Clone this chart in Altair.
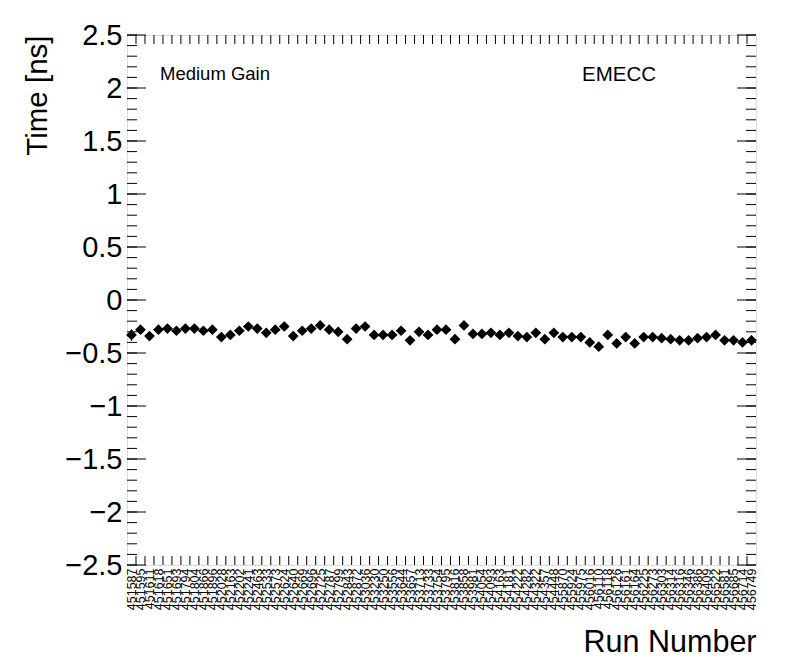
import altair as alt
import pandas as pd
import numpy as np

runs = ["451587", "451595", "451611", "451618", "451651", "451693", "451794", "451804",
        "451866", "451896", "452028", "452163", "452202", "452241", "452463", "452533",
        "452573", "452624", "452640", "452669", "452696", "452725", "452787", "452799",
        "452843", "452872", "453036", "453230", "453250", "453556", "453644", "453657",
        "453713", "453733", "453754", "453795", "453816", "453858", "453981", "454054",
        "454093", "454163", "454181", "454222", "454282", "454322", "454357", "454448",
        "455870", "455924", "455975", "456016", "456110", "456118", "456126", "456161",
        "456164", "456225", "456273", "456303", "456314", "456316", "456346", "456386",
        "456409", "456522", "456581", "456685", "456714", "456749"]

times = [-0.33, -0.28, -0.34, -0.28, -0.27, -0.29, -0.27, -0.27, -0.29, -0.28,
         -0.35, -0.33, -0.29, -0.25, -0.27, -0.31, -0.28, -0.25, -0.34, -0.29,
         -0.27, -0.24, -0.28, -0.30, -0.37, -0.27, -0.25, -0.33, -0.33, -0.33,
         -0.29, -0.38, -0.30, -0.33, -0.28, -0.28, -0.37, -0.24, -0.32, -0.32,
         -0.31, -0.33, -0.31, -0.34, -0.35, -0.31, -0.37, -0.31, -0.35, -0.35,
         -0.35, -0.40, -0.44, -0.33, -0.41, -0.35, -0.41, -0.35, -0.35, -0.36,
         -0.37, -0.38, -0.38, -0.36, -0.35, -0.33, -0.38, -0.38, -0.40, -0.38]

errors = [0.055, 0.03, 0.03, 0.03, 0.03, 0.03, 0.03, 0.03, 0.03, 0.03,
          0.03, 0.03, 0.03, 0.03, 0.03, 0.03, 0.03, 0.03, 0.03, 0.03,
          0.03, 0.03, 0.03, 0.03, 0.03, 0.03, 0.03, 0.03, 0.03, 0.03,
          0.03, 0.03, 0.03, 0.03, 0.03, 0.03, 0.03, 0.03, 0.03, 0.03,
          0.03, 0.03, 0.03, 0.03, 0.03, 0.03, 0.03, 0.03, 0.03, 0.03,
          0.03, 0.03, 0.03, 0.03, 0.03, 0.03, 0.03, 0.03, 0.03, 0.03,
          0.03, 0.03, 0.03, 0.03, 0.03, 0.03, 0.03, 0.03, 0.03, 0.045]

y_major = [-2.5, -2.0, -1.5, -1.0, -0.5, 0.0, 0.5, 1.0, 1.5, 2.0, 2.5]

W, H = 629, 530
N = len(runs)
FONT = "Liberation Sans"

df = pd.DataFrame({
    "idx": np.arange(N),
    "run": runs,
    "time": times,
    "err": errors,
})
df["center"] = df["idx"] + 0.5
df["left"] = df["idx"].astype(float)
df["right"] = df["idx"] + 1.0
df["lo"] = df["time"] - df["err"]
df["hi"] = df["time"] + df["err"]

xscale = alt.Scale(domain=[0, N], nice=False, zero=False)
yscale = alt.Scale(domain=[-2.5, 2.5], nice=False, zero=False)

label_array = "[" + ",".join("'" + r + "'" for r in runs) + "]"

xaxis = alt.Axis(values=[i + 0.5 for i in range(N)],
                 labelExpr=label_array + "[floor(datum.value)]",
                 labelAngle=270, labelAlign="right", labelBaseline="middle",
                 labelFontSize=12.5, labelFont=FONT, labelColor="black",
                 labelPadding=3, labelOverlap=False, labelFlush=False,
                 ticks=False, domain=False, grid=False,
                 title="Run Number", titleFont=FONT, titleFontSize=30.5,
                 titleFontWeight="normal", titleColor="black",
                 titleX=W, titleY=86, titleAlign="right",
                 titleBaseline="alphabetic", titleAnchor="end")
yaxis = alt.Axis(values=y_major, format="~g",
                 labelFontSize=29, labelFont=FONT, labelColor="black",
                 labelPadding=5, labelOverlap=False, labelFlush=False,
                 ticks=False, domain=False, grid=False,
                 title="Time [ns]", titleFont=FONT, titleFontSize=29.5,
                 titleFontWeight="normal", titleColor="black",
                 titleX=-104, titleY=0, titleAngle=270,
                 titleAlign="right", titleBaseline="top", titleAnchor="end")

base = alt.Chart(df)

points = base.mark_point(shape="diamond", filled=True, size=115, color="black", opacity=1).encode(
    x=alt.X("center:Q", scale=xscale, axis=xaxis),
    y=alt.Y("time:Q", scale=yscale, axis=yaxis),
)

hbars = base.mark_rule(color="black", strokeWidth=1.2).encode(
    x=alt.X("left:Q", scale=xscale, axis=xaxis),
    x2="right:Q",
    y=alt.Y("time:Q", scale=yscale, axis=yaxis),
)

vbars = base.mark_rule(color="black", strokeWidth=1.2).encode(
    x=alt.X("center:Q", scale=xscale, axis=xaxis),
    y=alt.Y("lo:Q", scale=yscale, axis=yaxis),
    y2="hi:Q",
)

# frame ticks (ROOT style, inward, on all four sides)
ymaj = pd.DataFrame({"v": y_major})
yminor_vals = [round(v, 1) for v in np.arange(-2.5, 2.5001, 0.1)]
ymin = pd.DataFrame({"v": yminor_vals})
xedges = pd.DataFrame({"v": [float(i) for i in range(1, N)]})

def yticks(data, length):
    left = alt.Chart(data).mark_rule(color="black", strokeWidth=1).encode(
        y=alt.Y("v:Q", scale=yscale, axis=yaxis),
        x=alt.value(0), x2=alt.value(length))
    right = alt.Chart(data).mark_rule(color="black", strokeWidth=1).encode(
        y=alt.Y("v:Q", scale=yscale, axis=yaxis),
        x=alt.value(W - length), x2=alt.value(W))
    return [left, right]

xt_bottom = alt.Chart(xedges).mark_rule(color="black", strokeWidth=1).encode(
    x=alt.X("v:Q", scale=xscale, axis=xaxis),
    y=alt.value(H), y2=alt.value(H - 9))
xt_top = alt.Chart(xedges).mark_rule(color="black", strokeWidth=1).encode(
    x=alt.X("v:Q", scale=xscale, axis=xaxis),
    y=alt.value(0), y2=alt.value(9))

ann = pd.DataFrame({"t": ["Medium Gain", "EMECC"]})
annot1 = alt.Chart(ann.iloc[[0]]).mark_text(align="left", baseline="alphabetic", font=FONT,
                                             fontSize=18.5, color="black").encode(
    x=alt.value(33), y=alt.value(45), text="t:N")
annot2 = alt.Chart(ann.iloc[[1]]).mark_text(align="left", baseline="alphabetic", font=FONT,
                                             fontSize=20.5, color="black").encode(
    x=alt.value(455), y=alt.value(46), text="t:N")

layers = yticks(ymaj, 19) + yticks(ymin, 10) + [xt_bottom, xt_top, hbars, vbars, points, annot1, annot2]

chart = alt.layer(*layers).properties(
    width=W, height=H,
    autosize=alt.AutoSizeParams(type="none"),
    padding={"left": 119, "top": 27, "right": 30, "bottom": 95},
).configure_view(stroke="black", strokeWidth=1.2).configure(background="white")

chart.save("out.html", embed_options={"renderer": "svg", "actions": False})
